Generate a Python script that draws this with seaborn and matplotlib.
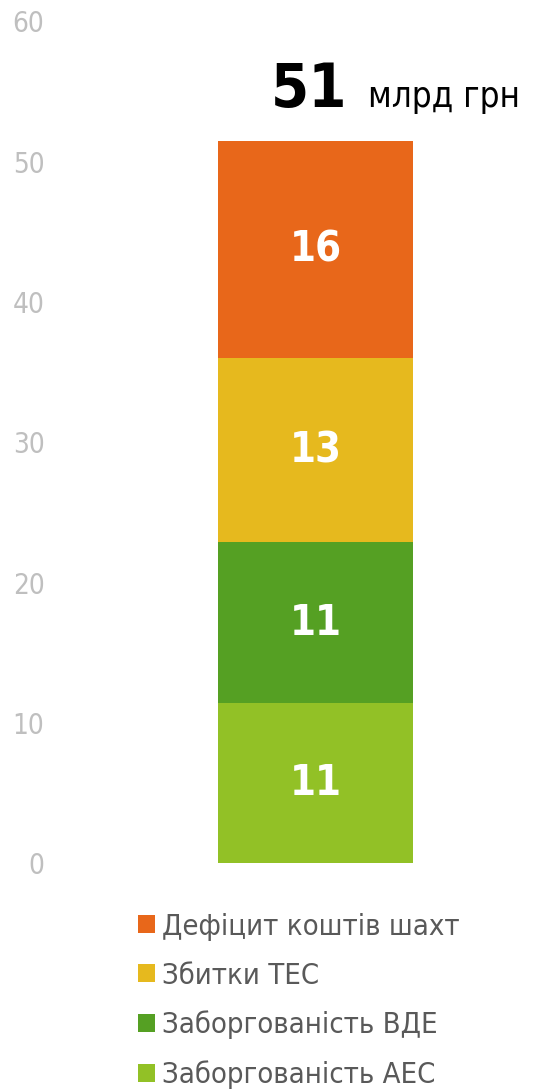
import matplotlib
matplotlib.use("Agg")
import matplotlib.pyplot as plt
from matplotlib.patches import Patch
import numpy as np
import pandas as pd
import seaborn as sns

sns.set_theme(style="white")
plt.rcParams["font.family"] = ["DejaVu Sans"]
plt.rcParams["font.stretch"] = "condensed"

# дані (млрд грн), знизу вгору
dzherela = ["Заборгованість АЕС", "Заборгованість ВДЕ", "Збитки ТЕС", "Дефіцит коштів шахт"]
znachennya = [11.4, 11.5, 13.1, 15.5]
pidpysy = ["11", "11", "13", "16"]
kolory = ["#92C126", "#55A023", "#E6B91E", "#E8671A"]
razom = "51"
odynytsi = "млрд грн"
yticks = [0, 10, 20, 30, 40, 50, 60]

df = pd.DataFrame({"dzherelo": dzherela, "value": znachennya, "pidpys": pidpysy, "kolir": kolory})
df["top"] = df["value"].cumsum()
df["bottom"] = df["top"] - df["value"]
df["stovpets"] = "всього"

fig = plt.figure(figsize=(5.52, 10.89), dpi=100)
ax = fig.add_axes([50 / 552, 0.2073, 502 / 552, 0.7731])

# накладені стовпці: від найвищої суми до найнижчої
for i in reversed(range(len(df))):
    sns.barplot(data=df.iloc[[i]], x="stovpets", y="top", color=df["kolir"][i],
                width=0.8, saturation=1, linewidth=0, ax=ax)

for i in range(len(df)):
    ax.text(0, (df["bottom"][i] + df["top"][i]) / 2, df["pidpys"][i],
            ha="center", va="center", color="white", fontsize=30, fontweight="bold")

total = df["top"].iloc[-1]
ax.annotate(razom, xy=(0, total), xytext=(23, 24), textcoords="offset points",
            ha="right", va="baseline", fontsize=44, fontweight="bold", color="black")
ax.annotate(odynytsi, xy=(0, total), xytext=(37.5, 24), textcoords="offset points",
            ha="left", va="baseline", fontsize=25, color="black")

ax.set_xlim(-1.089, 0.970)
ax.set_ylim(0, 60)
ax.set_yticks(yticks)
ax.set_yticklabels([str(t) for t in yticks])
ax.tick_params(axis="y", length=0, pad=4, labelsize=20, labelcolor="#BFBFBF")
ax.set_xticks([])
ax.set_xlabel("")
ax.set_ylabel("")
sns.despine(ax=ax, left=True, bottom=True)

handles = [Patch(facecolor=c, edgecolor="none") for c in kolory[::-1]]
leg = fig.legend(handles, dzherela[::-1], loc="upper left",
                 bbox_to_anchor=(138 / 552, 0.162), frameon=False,
                 fontsize=21, handlelength=0.57, handleheight=0.57,
                 handletextpad=0.27, labelspacing=0.72,
                 borderpad=0, borderaxespad=0)
for t in leg.get_texts():
    t.set_color("#595959")

fig.savefig("out.png", dpi=100)
